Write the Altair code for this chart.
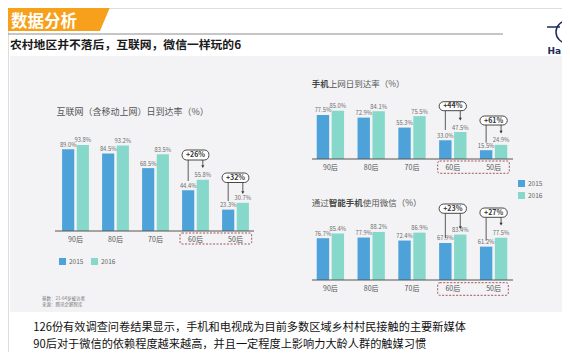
import altair as alt
import pandas as pd

# ---------------- data ----------------
cats = ["90后", "80后", "70后", "60后", "50后"]
years = ["2015", "2016"]
net_2015 = [89.0, 84.5, 68.5, 44.4, 23.3]
net_2016 = [93.8, 93.2, 83.5, 55.8, 30.7]
mob_2015 = [77.5, 72.9, 55.3, 33.0, 15.5]
mob_2016 = [85.0, 84.1, 75.5, 47.5, 24.9]
wx_2015 = [76.7, 77.9, 72.4, 67.9, 61.2]
wx_2016 = [85.4, 88.2, 86.9, 83.4, 77.5]
growth_cats = ["60后", "50后"]
net_growth = ["+26%", "+32%"]
mob_growth = ["+44%", "+61%"]
wx_growth = ["+23%", "+27%"]

header = "数据分析"
subtitle = "农村地区并不落后，互联网，微信一样玩的6"
net_title = "互联网（含移动上网）日到达率（%）"
mob_title = ["手机", "上网日到达率（%）"]
wx_title = ["通过", "智能手机", "使用微信（%）"]
notes = ["基数：21-64岁被访者", "来源：腾讯企鹅智库"]
body = ["126份有效调查问卷结果显示，手机和电视成为目前多数区域乡村村民接触的主要新媒体",
        "90后对于微信的依赖程度越来越高，并且一定程度上影响力大龄人群的触媒习惯"]

# ---------------- style ----------------
FONT = "Noto Sans CJK SC"
BLUE = "#4da3d9"
TEAL = "#86d9ca"
ORANGE = "#f6a01c"
NAVY = "#1d2b5c"
W, H = 554, 344


def X(v):
    return v - 8


def Y(v):
    return v - 8


one = pd.DataFrame({"k": [0]})


def box(x1, x2, y1, y2, **kw):
    return alt.Chart(one).mark_rect(**kw).encode(
        x=alt.value(X(x1)), x2=alt.value(X(x2)), y=alt.value(Y(y1)), y2=alt.value(Y(y2)))


def hline(x1, x2, y, **kw):
    return alt.Chart(one).mark_rule(**kw).encode(
        x=alt.value(X(x1)), x2=alt.value(X(x2)), y=alt.value(Y(y)))


def txt(s, x, y, **kw):
    kw.setdefault("font", FONT)
    kw.setdefault("align", "left")
    kw.setdefault("baseline", "middle")
    return alt.Chart(one).mark_text(text=s, **kw).encode(x=alt.value(X(x)), y=alt.value(Y(y)))


def panel(v15, v16, growth, xr, ybase, ytop, label_y, rule_x, dbox, ann, legend):
    df = pd.DataFrame({"cat": cats * 2, "year": ["2015"] * 5 + ["2016"] * 5, "v": v15 + v16})
    df["lbl"] = df["v"].map(lambda v: f"{v:.1f}%")
    x = alt.X("cat:N", scale=alt.Scale(domain=cats, range=[X(xr[0]), X(xr[1])],
                                       paddingInner=0.33, paddingOuter=0.165), axis=None)
    xo = alt.XOffset("year:N", scale=alt.Scale(domain=years, paddingInner=0.17))
    y = alt.Y("v:Q", scale=alt.Scale(domain=[0, 100], range=[Y(ybase), Y(ytop)]), axis=None)
    bars = alt.Chart(df).mark_bar().encode(
        x=x, xOffset=xo, y=y,
        color=alt.Color("year:N", scale=alt.Scale(domain=years, range=[BLUE, TEAL]), legend=legend))
    vals = alt.Chart(df).mark_text(font=FONT, fontSize=5.8, color="#6b6b6b", baseline="bottom", dy=-1.5).encode(
        x=x, xOffset=xo, y=y, text="lbl:N")
    cdf = pd.DataFrame({"cat": cats})
    clabels = alt.Chart(cdf).mark_text(font=FONT, fontSize=7, color="#555").encode(
        x=x, y=alt.value(Y(label_y)), text="cat:N")
    base = hline(rule_x[0], rule_x[1], ybase, color="#555", strokeWidth=1)
    dashed = box(*dbox, fillOpacity=0, stroke="#a4545c", strokeWidth=1, strokeDash=[2, 1.5], cornerRadius=2)
    layers = [bars, vals, base, clabels, dashed]
    for i, (oy1, oy2, ly2, ay2) in enumerate(ann):
        row = pd.DataFrame({"cat": [growth_cats[i]], "g": [growth[i]]})
        r15 = pd.DataFrame({"cat": [growth_cats[i]], "year": ["2015"]})
        r16 = pd.DataFrame({"cat": [growth_cats[i]], "year": ["2016"]})
        layers.append(alt.Chart(r15).mark_rule(color="#333", strokeWidth=0.8).encode(
            x=x, xOffset=xo, y=alt.value(Y(oy2)), y2=alt.value(Y(ly2))))
        layers.append(alt.Chart(r16).mark_rule(color="#333", strokeWidth=0.8).encode(
            x=x, xOffset=xo, y=alt.value(Y(oy2)), y2=alt.value(Y(ay2))))
        layers.append(alt.Chart(r16).mark_point(shape="triangle-down", size=10, filled=True, color="#333",
                                                opacity=1).encode(
            x=x, xOffset=xo, y=alt.value(Y(ay2 + 1.2))))
        layers.append(alt.Chart(row).mark_rect(fill="white", stroke="#333", strokeWidth=0.9,
                                               cornerRadius=4.5).encode(
            x=x, y=alt.value(Y(oy1)), y2=alt.value(Y(oy2))))
        layers.append(alt.Chart(row).mark_text(font=FONT, fontSize=7, fontWeight="bold", color="#333").encode(
            x=x, y=alt.value(Y((oy1 + oy2) / 2)), text="g:N"))
    return alt.layer(*layers)


leg_h = alt.Legend(orient="none", legendX=X(59), legendY=Y(258), direction="horizontal", title=None,
                   symbolType="square", symbolSize=49, symbolStrokeWidth=0, labelFontSize=6.5,
                   labelColor="#666", labelFont=FONT, columnPadding=7, labelOffset=3, padding=0)
leg_v = alt.Legend(orient="none", legendX=X(518), legendY=Y(180), direction="vertical", title=None,
                   symbolType="square", symbolSize=49, symbolStrokeWidth=0, labelFontSize=6.5,
                   labelColor="#666", labelFont=FONT, rowPadding=5, labelOffset=3, padding=0)

p_net = panel(net_2015, net_2016, net_growth, (55.5, 255.5), 231, 139.2, 240, (55, 254),
              (180, 251.7, 233, 244),
              [(150, 160, 181, 165.5), (173, 182.5, 201, 191.5)], leg_h)
p_mob = panel(mob_2015, mob_2016, mob_growth, (310, 514), 159, 102.2, 168.3, (312, 513),
              (437.7, 509.3, 161, 173.3),
              [(101.7, 110.7, 130, 118), (116, 125, 142.7, 131)], leg_v)
p_wx = panel(wx_2015, wx_2016, wx_growth, (310, 514), 280, 225.5, 289.3, (312, 513),
             (437.7, 508.3, 282.7, 295.3),
             [(204, 213.3, 238.3, 226.5), (208, 217.3, 240.7, 223)], None)

trap = "M-3.645,-1 L3.645,-1 L2.806,1 L-3.645,1 Z"
decor = [
    box(10, 575, 56, 312, color="#f3f3f5"),
    alt.Chart(one).mark_point(shape=trap, size=961, filled=True, color=ORANGE, opacity=1,
                              strokeWidth=0).encode(x=alt.value(X(56.5)), y=alt.value(Y(15.5))),
    txt(header, 11, 22, fontSize=16.5, fontWeight="bold", color="white"),
    hline(0, 503, 34, color="#8c8c8c", strokeWidth=1),
    txt(subtitle, 10, 45, fontSize=11.8, fontWeight="bold", color="#1a1a1a"),
    hline(547, 560, 27, color=NAVY, strokeWidth=1.5),
    alt.Chart(one).mark_point(shape="circle", size=484, filled=False, color=NAVY, strokeWidth=1.5,
                              opacity=1).encode(x=alt.value(X(567)), y=alt.value(Y(32))),
    txt("Ha", 561, 51, fontSize=9, fontWeight="bold", color=NAVY, font="DejaVu Sans", align="right"),
    txt(net_title, 56.5, 111.7, fontSize=9, color="#555"),
    txt(mob_title[0], 311.7, 84, fontSize=8.5, fontWeight="bold", color="#444"),
    txt(mob_title[1], 328.7, 84, fontSize=8.5, color="#555"),
    txt(wx_title[0], 311.7, 203.3, fontSize=8.5, color="#555"),
    txt(wx_title[1], 328.7, 203.3, fontSize=8.5, fontWeight="bold", color="#444"),
    txt(wx_title[2], 362.7, 203.3, fontSize=8.5, color="#555"),
    txt(notes[0], 42, 299, fontSize=4.5, color="#777"),
    txt(notes[1], 42, 305, fontSize=4.5, color="#777"),
    txt(body[0], 33.3, 327.5, fontSize=11.2, color="#111"),
    txt(body[1], 33.3, 344.5, fontSize=11.2, color="#111"),
]

chart = alt.layer(*decor, p_net, p_mob, p_wx).resolve_scale(
    x="independent", y="independent", color="independent", xOffset="independent"
).properties(
    width=W, height=H, autosize=alt.AutoSizeParams(type="none"), padding=0, background="white"
).configure_view(stroke=None).configure(font=FONT)

chart.save("out.html", embed_options={"renderer": "svg", "actions": False})
